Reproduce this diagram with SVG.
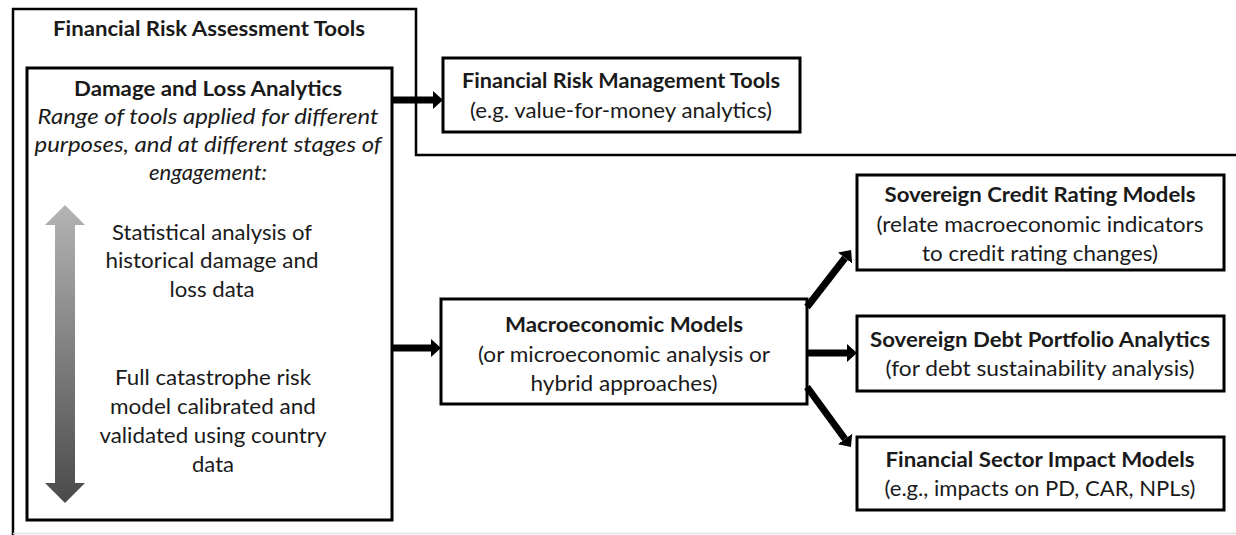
<svg xmlns="http://www.w3.org/2000/svg" width="1236" height="535" viewBox="0 0 1236 535">
<style>
text{font-family:Lato,"Liberation Sans",sans-serif;fill:#1a1a1a;text-anchor:middle;font-size:21px}
.b{font-weight:bold}
.i{font-style:italic}
.box{fill:#fff;stroke:#000;stroke-width:3}
.frame{fill:none;stroke:#000;stroke-width:2.5}
.conn line{stroke:#000;stroke-width:7}
</style>
<defs>
<marker id="ah" viewBox="0 0 10 18" markerWidth="10" markerHeight="18" refX="0" refY="9" orient="auto" markerUnits="userSpaceOnUse">
<path d="M0,0 L10,9 L0,18 Z" fill="#000"/>
</marker>
<linearGradient id="g" x1="0" y1="0" x2="0" y2="1">
<stop offset="0" stop-color="#b4b4b4"/>
<stop offset="1" stop-color="#4a4a4a"/>
</linearGradient>
</defs>
<rect width="1236" height="535" fill="#fff"/>
<g id="frame">
<polyline class="frame" points="13,535 13,9 416,9 416,155 1236,155"/>
<line x1="13" y1="533.5" x2="1236" y2="533.5" stroke="#e2e2e2" stroke-width="1.5"/>
<text class="b" x="209" y="36" font-size="20" textLength="312" lengthAdjust="spacingAndGlyphs">Financial Risk Assessment Tools</text>
</g>
<g id="damage">
<rect class="box" x="27" y="68" width="365" height="452"/>
<text class="b" x="208" y="96" textLength="268" lengthAdjust="spacingAndGlyphs">Damage and Loss Analytics</text>
<text class="i" x="208" y="124" textLength="341" lengthAdjust="spacingAndGlyphs">Range of tools applied for different</text>
<text class="i" x="208" y="152" textLength="347" lengthAdjust="spacingAndGlyphs">purposes, and at different stages of</text>
<text class="i" x="208" y="180" textLength="118" lengthAdjust="spacingAndGlyphs">engagement:</text>
<polygon points="65,205 85,225 75,225 75,483 85,483 65,503 45,483 55,483 55,225 45,225" fill="url(#g)"/>
<text x="212" y="240" textLength="200" lengthAdjust="spacingAndGlyphs">Statistical analysis of</text>
<text x="212" y="268" textLength="213" lengthAdjust="spacingAndGlyphs">historical damage and</text>
<text x="212" y="297" textLength="85" lengthAdjust="spacingAndGlyphs">loss data</text>
<text x="213" y="385" textLength="196" lengthAdjust="spacingAndGlyphs">Full catastrophe risk</text>
<text x="213" y="414" textLength="206" lengthAdjust="spacingAndGlyphs">model calibrated and</text>
<text x="213" y="443" textLength="227" lengthAdjust="spacingAndGlyphs">validated using country</text>
<text x="213" y="472" textLength="42" lengthAdjust="spacingAndGlyphs">data</text>
</g>
<g id="frm">
<rect class="box" x="443" y="58" width="357" height="74"/>
<text class="b" x="621" y="88" textLength="318" lengthAdjust="spacingAndGlyphs">Financial Risk Management Tools</text>
<text x="621" y="118" textLength="302" lengthAdjust="spacingAndGlyphs">(e.g. value-for-money analytics)</text>
</g>
<g id="macro">
<rect class="box" x="441" y="299" width="366" height="105"/>
<text class="b" x="624" y="332" textLength="238" lengthAdjust="spacingAndGlyphs">Macroeconomic Models</text>
<text x="624" y="362" textLength="292" lengthAdjust="spacingAndGlyphs">(or microeconomic analysis or</text>
<text x="624" y="391" textLength="187" lengthAdjust="spacingAndGlyphs">hybrid approaches)</text>
</g>
<g id="credit">
<rect class="box" x="857" y="175" width="367" height="95"/>
<text class="b" x="1040" y="202" textLength="311" lengthAdjust="spacingAndGlyphs">Sovereign Credit Rating Models</text>
<text x="1040" y="232" textLength="327" lengthAdjust="spacingAndGlyphs">(relate macroeconomic indicators</text>
<text x="1040" y="261" textLength="236" lengthAdjust="spacingAndGlyphs">to credit rating changes)</text>
</g>
<g id="debt">
<rect class="box" x="857" y="316" width="367" height="75"/>
<text class="b" x="1040" y="347" textLength="340" lengthAdjust="spacingAndGlyphs">Sovereign Debt Portfolio Analytics</text>
<text x="1040" y="376" textLength="309" lengthAdjust="spacingAndGlyphs">(for debt sustainability analysis)</text>
</g>
<g id="sector">
<rect class="box" x="857" y="437" width="367" height="73"/>
<text class="b" x="1040" y="467" textLength="309" lengthAdjust="spacingAndGlyphs">Financial Sector Impact Models</text>
<text x="1040" y="496" textLength="311" lengthAdjust="spacingAndGlyphs">(e.g., impacts on PD, CAR, NPLs)</text>
</g>
<g id="connectors" class="conn">
<line x1="393" y1="100" x2="433" y2="100" marker-end="url(#ah)"/>
<line x1="393" y1="348" x2="431" y2="348" marker-end="url(#ah)"/>
<line x1="807" y1="307" x2="845" y2="258" marker-end="url(#ah)"/>
<line x1="808" y1="353" x2="847" y2="353" marker-end="url(#ah)"/>
<line x1="807" y1="387" x2="845" y2="439" marker-end="url(#ah)"/>
</g>
</svg>
